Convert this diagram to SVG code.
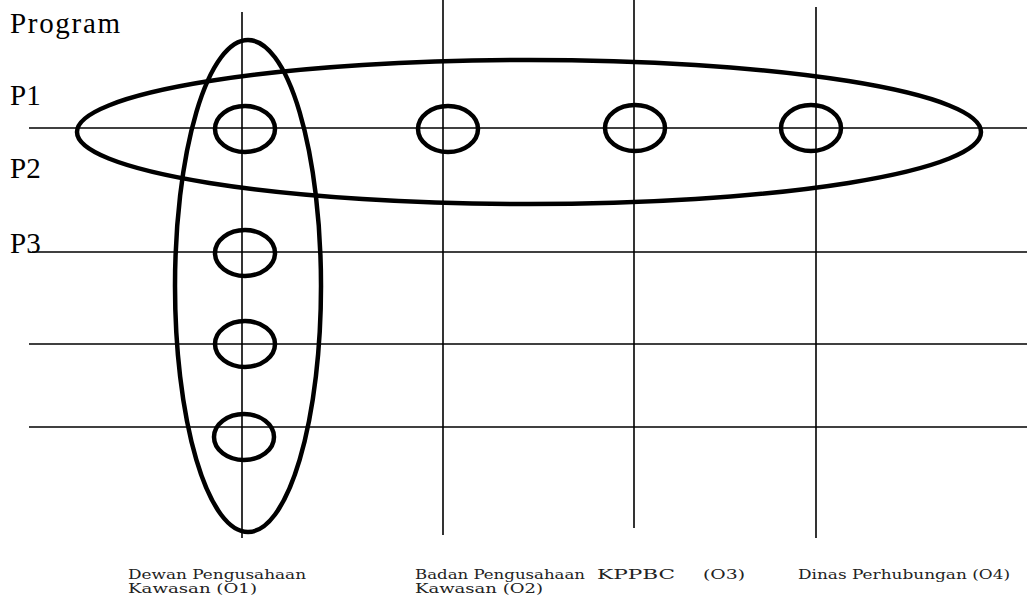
<svg xmlns="http://www.w3.org/2000/svg" width="1027" height="601" viewBox="0 0 1027 601">
<style>
.grid{stroke:#000;stroke-width:1.6;fill:none}
.big{stroke:#000;stroke-width:4.5;fill:none}
.node{stroke:#000;stroke-width:4.5;fill:none}
.lbl{font-family:"Liberation Serif","Times New Roman",serif;font-size:29px;fill:#000}
.org{font-family:"DejaVu Serif",serif;font-size:12px;fill:#222}
</style>
<rect width="1027" height="601" fill="#fff"/>
<g id="connectors">
<line class="grid" x1="242" y1="12" x2="242" y2="538"/>
<line class="grid" x1="443" y1="0" x2="443" y2="535"/>
<line class="grid" x1="634" y1="0" x2="634" y2="528"/>
<line class="grid" x1="816" y1="7" x2="816" y2="538"/>
<line class="grid" x1="29" y1="128" x2="1027" y2="128"/>
<line class="grid" x1="32" y1="252" x2="1027" y2="252"/>
<line class="grid" x1="29" y1="344" x2="1027" y2="344"/>
<line class="grid" x1="29" y1="427" x2="1027" y2="427"/>
</g>
<g id="group-program-row">
<ellipse class="big" cx="529" cy="132" rx="452" ry="72"/>
</g>
<g id="group-o1-column">
<ellipse class="big" cx="248" cy="286" rx="73" ry="246"/>
</g>
<g id="n-o1-p1"><ellipse class="node" cx="245" cy="129" rx="30" ry="23"/></g>
<g id="n-o2-p1"><ellipse class="node" cx="448" cy="129" rx="30" ry="23"/></g>
<g id="n-o3-p1"><ellipse class="node" cx="635" cy="128" rx="30" ry="23"/></g>
<g id="n-o4-p1"><ellipse class="node" cx="811" cy="128" rx="30" ry="23"/></g>
<g id="n-o1-p3"><ellipse class="node" cx="245" cy="253" rx="30" ry="23"/></g>
<g id="n-o1-p4"><ellipse class="node" cx="245" cy="344" rx="30" ry="23"/></g>
<g id="n-o1-p5"><ellipse class="node" cx="244" cy="437" rx="30" ry="23"/></g>
<g id="row-labels">
<text class="lbl" x="10" y="33" textLength="110">Program</text>
<text class="lbl" x="10" y="105">P1</text>
<text class="lbl" x="10" y="178">P2</text>
<text class="lbl" x="10" y="253">P3</text>
</g>
<g id="org-labels">
<text class="org" x="128" y="579" textLength="178" lengthAdjust="spacingAndGlyphs">Dewan Pengusahaan</text>
<text class="org" x="128" y="593" textLength="129" lengthAdjust="spacingAndGlyphs">Kawasan (O1)</text>
<text class="org" x="415" y="579" textLength="170" lengthAdjust="spacingAndGlyphs">Badan Pengusahaan</text>
<text class="org" x="415" y="593" textLength="128" lengthAdjust="spacingAndGlyphs">Kawasan (O2)</text>
<text class="org" x="597" y="579" textLength="78" lengthAdjust="spacingAndGlyphs">KPPBC</text>
<text class="org" x="703" y="579" textLength="42" lengthAdjust="spacingAndGlyphs">(O3)</text>
<text class="org" x="798" y="579" textLength="212" lengthAdjust="spacingAndGlyphs">Dinas Perhubungan (O4)</text>
</g>
</svg>
